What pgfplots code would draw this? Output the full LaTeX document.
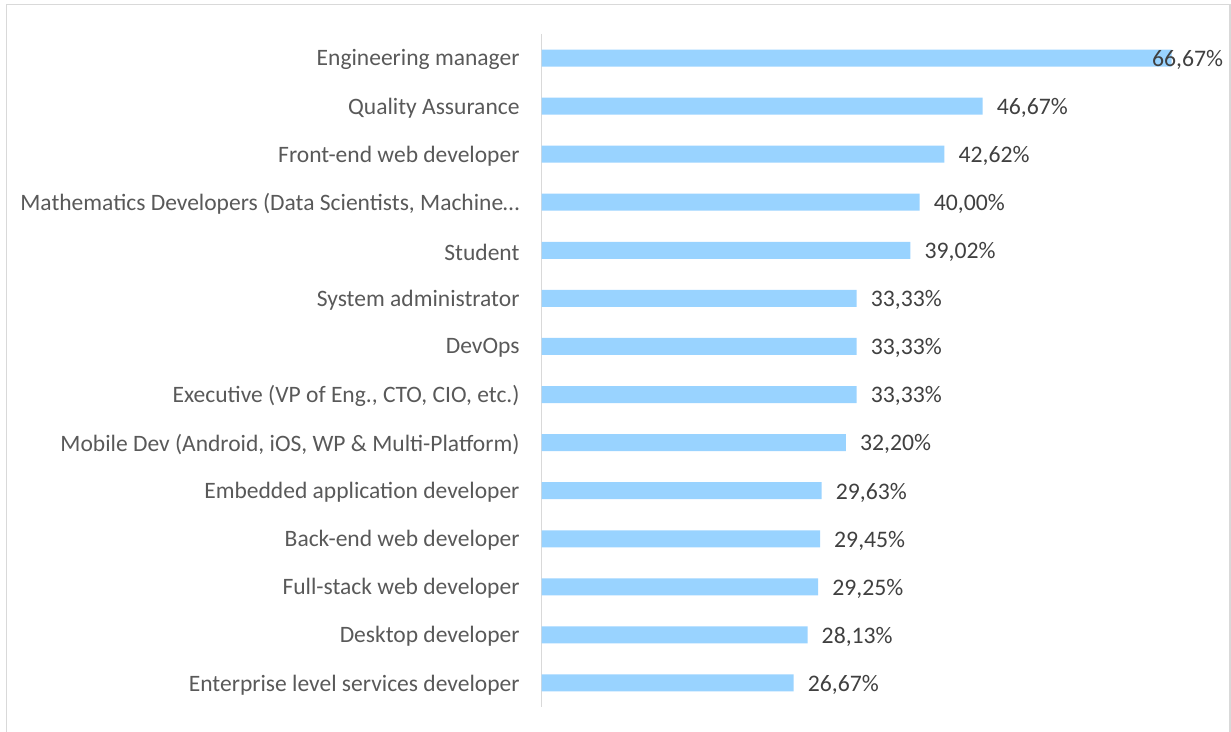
\documentclass[border=0pt]{standalone}
\usepackage{pgfplots}
\pgfplotsset{compat=1.18}
\usepackage{pgfplotstable}
\usepackage{fontspec}
\setmainfont{Carlito}
\definecolor{barblue}{HTML}{99D3FF}
\definecolor{labgray}{HTML}{595959}
\definecolor{valgray}{HTML}{404040}
\definecolor{framegray}{HTML}{D9D9D9}
\pgfplotstableread{
y val
0 66.67
1 46.67
2 42.62
3 40.00
4 39.02
5 33.33
6 33.33
7 33.33
8 32.20
9 29.63
10 29.45
11 29.25
12 28.13
13 26.67
}\datatable
\begin{document}
\begin{tikzpicture}[x=1bp,y=1bp]
\useasboundingbox (0,0) rectangle (1231,732);
\draw[framegray, line width=1.3bp] (6.5,-2) -- (6.5,727.5) -- (1230,727.5) -- (1230,-2);
\begin{axis}[
  at={(541.7bp,25bp)}, anchor=south west,
  scale only axis, width=661.5bp, height=673bp,
  xmin=0, xmax=70, ymin=-0.5, ymax=13.5,
  y dir=reverse,
  hide x axis,
  axis y line*=left,
  y axis line style={framegray, line width=1.3bp},
  ytick={0,...,13},
  major tick length=0pt,
  yticklabels={
    Engineering manager,
    Quality Assurance,
    Front-end web developer,
    {Mathematics Developers (Data Scientists, Machine…},
    Student,
    System administrator,
    DevOps,
    {Executive (VP of Eng., CTO, CIO, etc.)},
    {Mobile Dev (Android, iOS, WP \& Multi-Platform)},
    Embedded application developer,
    Back-end web developer,
    Full-stack web developer,
    Desktop developer,
    Enterprise level services developer},
  yticklabel style={font=\fontsize{23.6}{28}\selectfont, text=labgray, anchor=east, inner sep=0pt, xshift=-22bp, yshift=-1.8bp},
  /pgf/number format/assume math mode=true,
  clip=false,
]
\addplot[xbar, bar shift=0pt, bar width=17bp, fill=barblue, draw=none] table[x=val, y=y] {\datatable};
\addplot[draw=none, mark=none, x filter/.expression={x>60 ? 63.1 : x},
  point meta=explicit,
  nodes near coords={\pgfmathprintnumber[fixed, fixed zerofill, precision=2, use comma]{\pgfplotspointmeta}\%},
  nodes near coords style={anchor=west, inner sep=0pt, xshift=14bp, yshift=-1.8bp, text=valgray, font=\fontsize{23.8}{28}\selectfont},
] table[x=val, y=y, meta=val] {\datatable};
\end{axis}
\end{tikzpicture}
\end{document}
